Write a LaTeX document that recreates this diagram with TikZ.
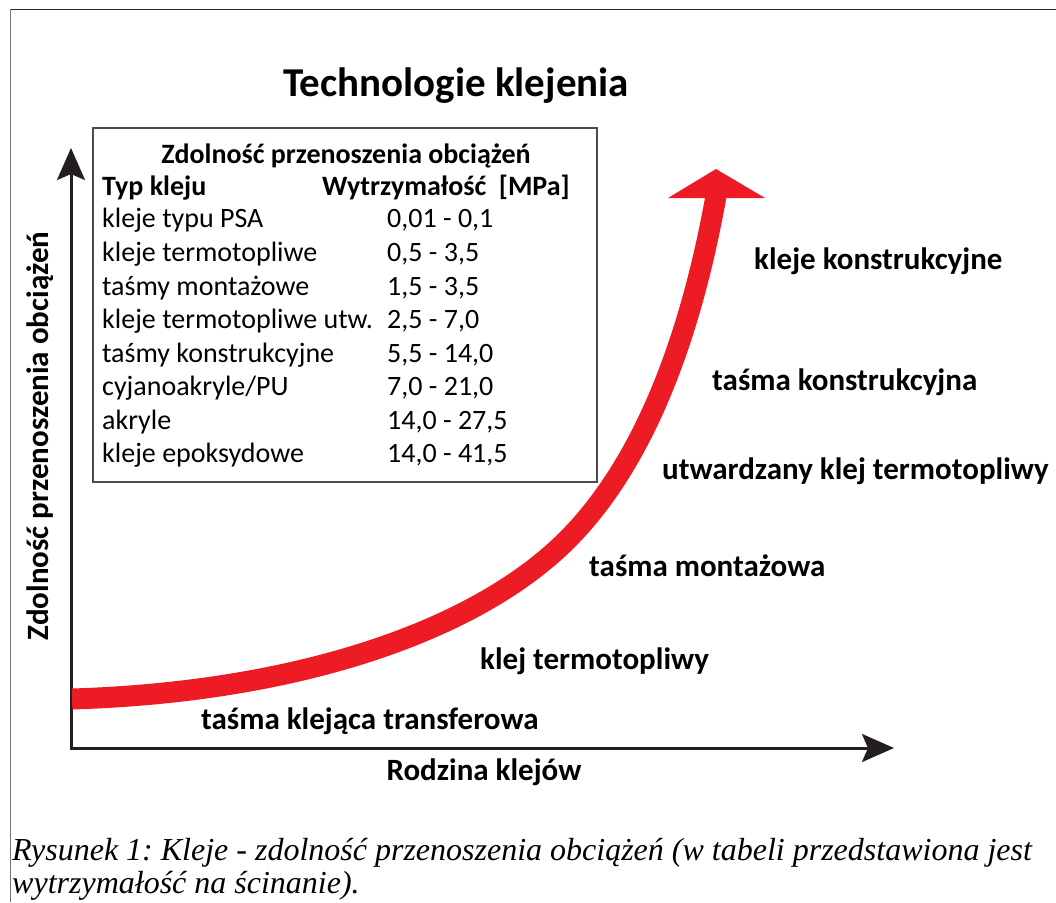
\documentclass[tikz,border=0pt]{standalone}
\usepackage{fontspec}
\setmainfont{Carlito}
\newfontfamily\capfont{Liberation Serif}
\usetikzlibrary{arrows.meta}
\definecolor{axisgray}{RGB}{35,31,32}
\definecolor{arrowred}{RGB}{237,28,36}
\frenchspacing
\begin{document}
\begin{tikzpicture}[x=1pt,y=-1pt,
  lbl/.style={anchor=base west, inner sep=0pt, font=\fontsize{31}{31}\selectfont\bfseries},
  cell/.style={anchor=base west, inner sep=0pt, font=\fontsize{28}{28}\selectfont},
  headcell/.style={cell, font=\fontsize{28}{28}\selectfont\bfseries},
  axis/.style={line width=3pt, color=axisgray, -{Stealth[length=32pt,width=28pt,inset=6pt]}},
  capt/.style={anchor=base west, inner sep=0pt, font=\capfont\itshape\fontsize{32}{32}\selectfont}]
\useasboundingbox (0,0) rectangle (1056,902);
\fill[white] (0,0) rectangle (1056,902);
% frame
\draw[line width=1.5pt, black!85] (10,9.5) -- (1056,9.5);
\draw[line width=1.2pt, black!55] (10.5,9) -- (10.5,902);
% title
\node[anchor=base, inner sep=0pt, font=\fontsize{41}{41}\selectfont\bfseries] (title) at (456,96) {Technologie klejenia};
% axes
\coordinate (origin) at (71,748);
\coordinate (ytip) at (71,148);
\coordinate (xtip) at (894,748);
\draw[axis] (71,749.5) -- (ytip);
\draw[axis] (69.5,748) -- (xtip);
\node[anchor=base, inner sep=0pt, rotate=90, font=\fontsize{31}{31}\selectfont\bfseries] (ylab) at (48,436) {Zdolność przenoszenia obciążeń};
\node[anchor=base, inner sep=0pt, font=\fontsize{31}{31}\selectfont\bfseries] (xlab) at (484,780) {Rodzina klejów};
% red curve
\coordinate (cstart) at (72,699);
\coordinate (cmid) at (567,540);
\coordinate (cend) at (716,196);
\draw[arrowred, line width=21pt] (cstart) .. controls (300,692) and (477,630) .. (cmid)
  .. controls (647,460) and (692,330) .. (cend);
\coordinate (rtip) at (716,169);
\fill[arrowred] (668,198) -- (rtip) -- (765,198) -- cycle;
% table
\draw[line width=1.3pt, black!70] (93,128) rectangle (597,482);
\node[anchor=base, inner sep=0pt, font=\fontsize{28}{28}\selectfont\bfseries] (th) at (346,163) {Zdolność przenoszenia obciążeń};
\node[headcell] (h1) at (102,195) {Typ kleju};
\node[headcell] (h2) at (322,195) {Wytrzymałość\ \ [MPa]};
\node[cell] (r1a) at (102,227) {kleje typu PSA};
\node[cell] (r1b) at (387,227) {0,01 - 0,1};
\node[cell] (r2a) at (102,261) {kleje termotopliwe};
\node[cell] (r2b) at (387,261) {0,5 - 3,5};
\node[cell] (r3a) at (102,295) {taśmy montażowe};
\node[cell] (r3b) at (387,295) {1,5 - 3,5};
\node[cell] (r4a) at (102,328) {kleje termotopliwe utw.};
\node[cell] (r4b) at (387,328) {2,5 - 7,0};
\node[cell] (r5a) at (102,362) {taśmy konstrukcyjne};
\node[cell] (r5b) at (387,362) {5,5 - 14,0};
\node[cell] (r6a) at (102,395) {cyjanoakryle/PU};
\node[cell] (r6b) at (387,395) {7,0 - 21,0};
\node[cell] (r7a) at (102,429) {akryle};
\node[cell] (r7b) at (387,429) {14,0 - 27,5};
\node[cell] (r8a) at (102,462) {kleje epoksydowe};
\node[cell] (r8b) at (387,462) {14,0 - 41,5};
% curve labels
\node[lbl] (l1) at (754,269) {kleje konstrukcyjne};
\node[lbl] (l2) at (712,390) {taśma konstrukcyjna};
\node[lbl] (l3) at (662,479) {utwardzany klej termotopliwy};
\node[lbl] (l4) at (589,576) {taśma montażowa};
\node[lbl] (l5) at (480,669) {klej termotopliwy};
\node[lbl] (l6) at (201,729) {taśma klejąca transferowa};
% caption
\node[capt] (c1) at (12,860) {Rysunek 1: Kleje - zdolność przenoszenia obciążeń (w tabeli przedstawiona jest};
\node[capt] (c2) at (12,893) {wytrzymałość na ścinanie).};
\end{tikzpicture}
\end{document}
